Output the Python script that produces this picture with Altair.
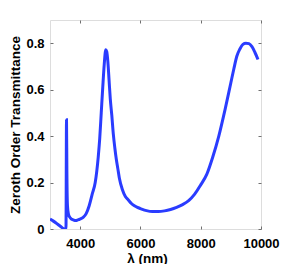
import altair as alt
import pandas as pd

wavelength = [3000, 3100, 3200, 3300, 3400, 3450, 3500, 3530, 3548, 3560, 3580, 3610,
              3650, 3700, 3750, 3800, 3850, 3900, 3950, 4000, 4100, 4200, 4300, 4400, 4500,
              4600, 4650, 4700, 4750, 4800, 4850, 4880, 4920, 4960, 5000, 5050, 5100, 5150,
              5200, 5250, 5300, 5400, 5500, 5600, 5700, 5800, 5900, 6000, 6200, 6400, 6600, 6800,
              7000, 7200, 7400, 7600, 7800, 8000, 8200, 8400, 8600, 8800, 9000, 9100,
              9200, 9300, 9400, 9500, 9600, 9700, 9800, 9900]
transmittance = [0.043, 0.035, 0.026, 0.016, 0.006, 0.001, 0.0, 0.0, 0.47, 0.25, 0.10, 0.065,
                 0.052, 0.044, 0.040, 0.038, 0.037, 0.038, 0.040, 0.043, 0.05, 0.066, 0.10, 0.15, 0.20,
                 0.31, 0.39, 0.50, 0.61, 0.71, 0.772, 0.765, 0.72, 0.64, 0.56, 0.49, 0.41, 0.35,
                 0.30, 0.26, 0.22, 0.17, 0.14, 0.125, 0.11, 0.10, 0.093, 0.088, 0.079, 0.075, 0.075, 0.078,
                 0.084, 0.093, 0.105, 0.122, 0.150, 0.19, 0.235, 0.31, 0.40, 0.51, 0.63, 0.69,
                 0.745, 0.775, 0.795, 0.80, 0.798, 0.785, 0.76, 0.73]

df = pd.DataFrame({"wl": wavelength, "t": transmittance})

W, H = 211, 209
FONT = "Liberation Sans"
GRAY = "#707070"
xscale = alt.Scale(domain=[3000, 10000], nice=False, zero=False)
yscale = alt.Scale(domain=[0, 0.9], nice=False)
xticks = [4000, 6000, 8000, 10000]
yticks = [0, 0.2, 0.4, 0.6, 0.8]

base = alt.Chart(df)

main = base.mark_line(color="#2a3cff", strokeWidth=3, clip=True, interpolate="monotone").encode(
    x=alt.X("wl:Q", scale=xscale, axis=alt.Axis(
        orient="bottom", values=xticks, ticks=False, domain=False, grid=False, format="d",
        labelFont=FONT, labelFontWeight="bold", labelFontSize=13, labelColor="black",
        labelPadding=8, labelFlush=False,
        title="λ (nm)", titleFont=FONT, titleFontWeight="bold", titleFontSize=13.5,
        titleColor="black", titleX=97, titleY=33, titleBaseline="alphabetic", titleAlign="center")),
    y=alt.Y("t:Q", scale=yscale, axis=alt.Axis(
        orient="left", values=yticks, ticks=False, domain=False, grid=False,
        labelFont=FONT, labelFontWeight="bold", labelFontSize=13, labelColor="black",
        labelPadding=6, format="~g", labelFlush=False,
        title="Zeroth Order Transmittance", titleFont=FONT, titleFontWeight="bold",
        titleFontSize=13.5, titleColor="black", titleAngle=-90, titleX=-31, titleY=104.5,
        titleBaseline="alphabetic", titleAlign="center")),
)

def tick_layer(xorient, yorient):
    return base.mark_line(opacity=0).encode(
        x=alt.X("wl:Q", scale=xscale, axis=alt.Axis(
            orient=xorient, offset=-H, values=xticks, labels=False, domain=False,
            grid=False, ticks=True, tickSize=3, tickColor=GRAY, title=None)),
        y=alt.Y("t:Q", scale=yscale, axis=alt.Axis(
            orient=yorient, offset=-W, values=yticks, labels=False, domain=False,
            grid=False, ticks=True, tickSize=3, tickColor=GRAY, title=None)),
    )

chart = alt.layer(main, tick_layer("top", "right"), tick_layer("bottom", "left")).resolve_axis(
    x="independent", y="independent"
).properties(
    width=W, height=H,
    autosize=alt.AutoSizeParams(type="none"),
    padding={"left": 42, "top": 12, "right": 19, "bottom": 35},
).configure_view(stroke=GRAY, strokeWidth=1).configure(background="white")

chart.save("out.html", embed_options={"renderer": "svg", "actions": False})
